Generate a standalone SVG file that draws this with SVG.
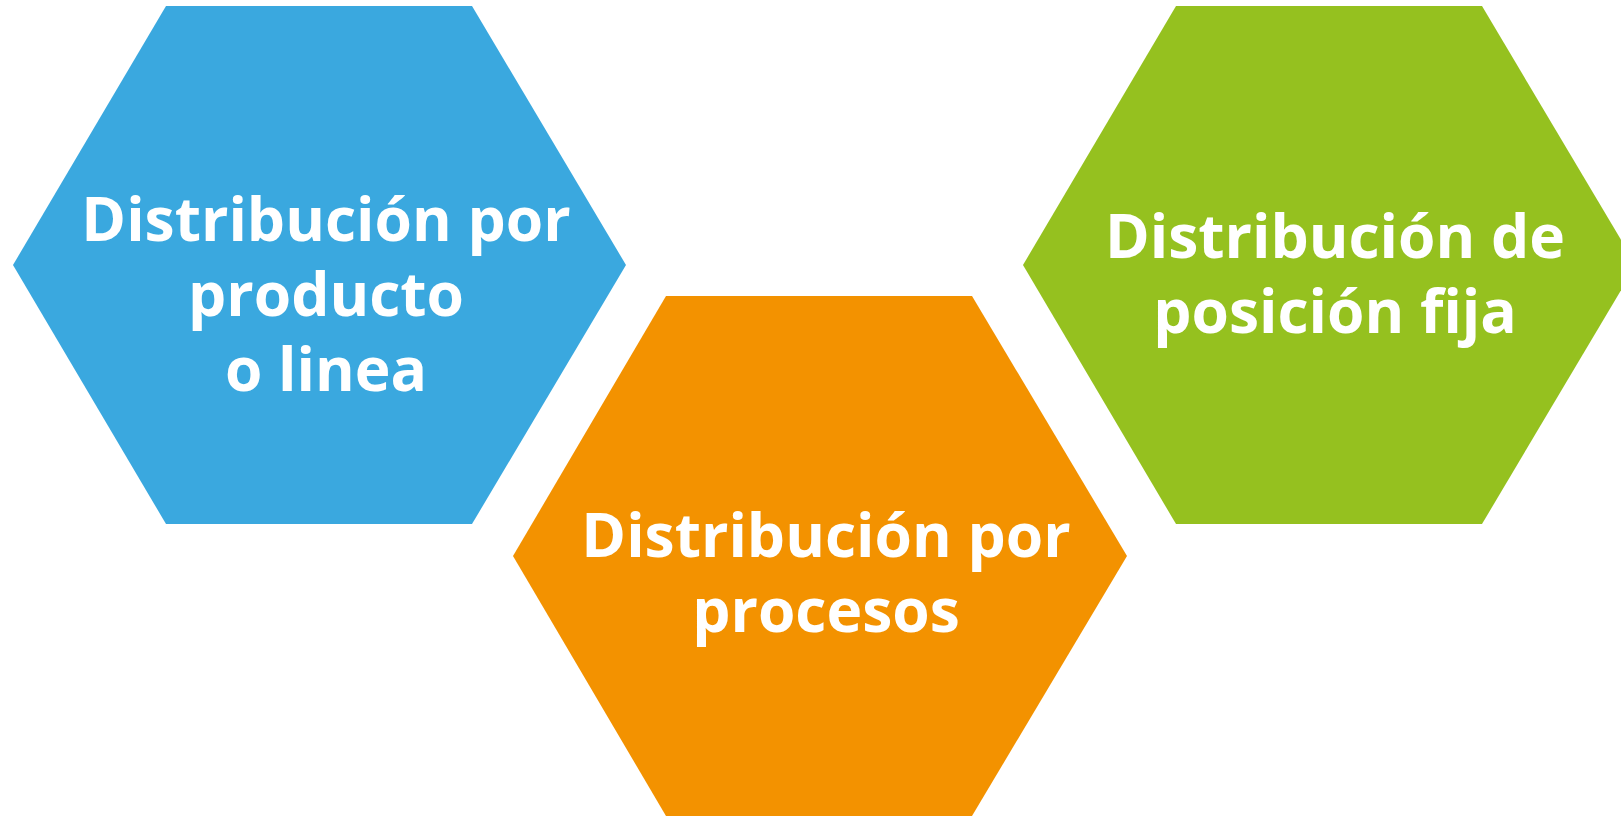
<svg xmlns="http://www.w3.org/2000/svg" width="1621" height="816" viewBox="0 0 1621 816">
<style>
.lbl{font-family:"Open Sans","Liberation Sans",sans-serif;font-weight:700;font-size:60.5px;fill:#ffffff;text-anchor:middle}
</style>
<rect width="1621" height="816" fill="#ffffff"/>
<g id="node-producto">
<polygon points="166,6 472,6 626,265 472,524 166,524 13,265" fill="#3AA8DF"/>
<text class="lbl" x="326" y="241">Distribución por</text>
<text class="lbl" x="326" y="316">producto</text>
<text class="lbl" x="326" y="391">o linea</text>
</g>
<g id="node-procesos">
<polygon points="666,296 972,296 1127,556 972,816 666,816 513,556" fill="#F39200"/>
<text class="lbl" x="826" y="557">Distribución por</text>
<text class="lbl" x="826" y="632">procesos</text>
</g>
<g id="node-fija">
<polygon points="1176,6 1482,6 1636,265 1482,524 1176,524 1023,265" fill="#95C11F"/>
<text class="lbl" x="1335" y="258">Distribución de</text>
<text class="lbl" x="1335" y="333">posición fija</text>
</g>
<g id="connectors"></g>
</svg>
